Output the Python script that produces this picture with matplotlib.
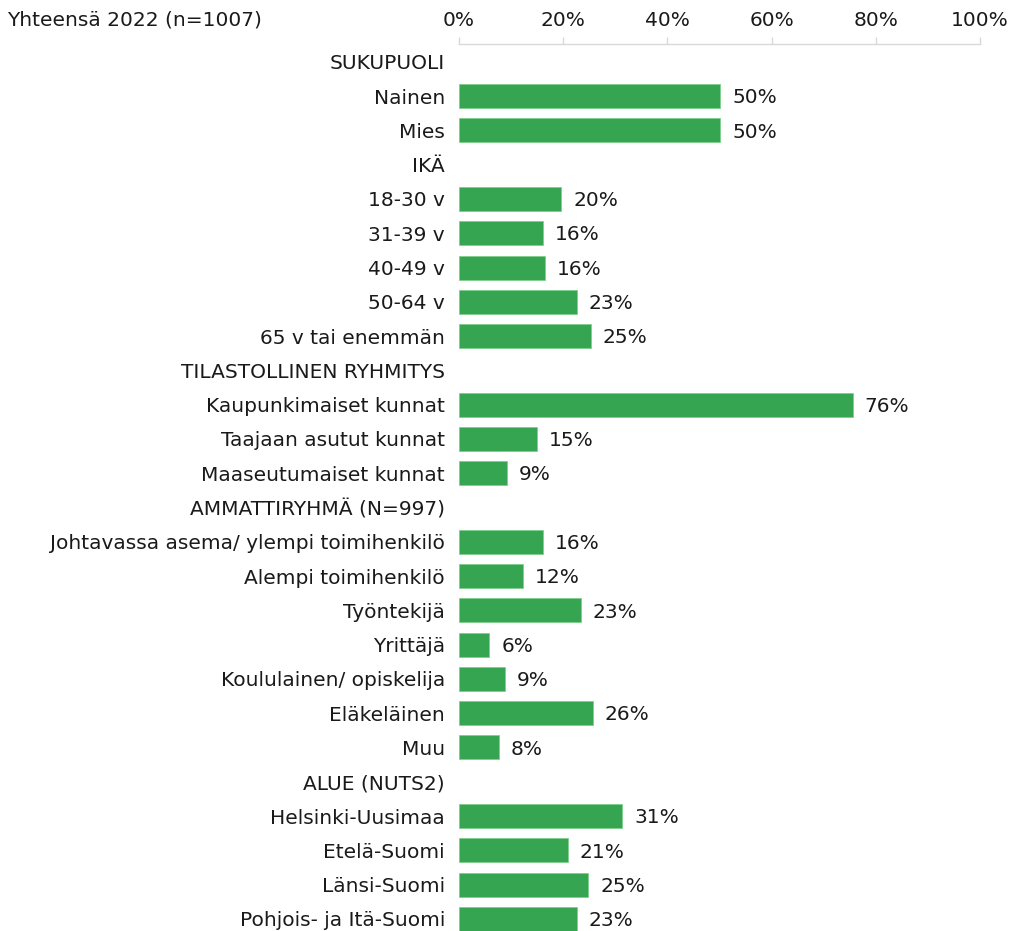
import matplotlib
matplotlib.use("Agg")
import matplotlib.pyplot as plt
from matplotlib.ticker import FuncFormatter

labels = ["SUKUPUOLI", "Nainen", "Mies", "IKÄ", "18-30 v", "31-39 v", "40-49 v",
          "50-64 v", "65 v tai enemmän", "TILASTOLLINEN RYHMITYS",
          "Kaupunkimaiset kunnat", "Taajaan asutut kunnat", "Maaseutumaiset kunnat",
          "AMMATTIRYHMÄ (N=997)", "Johtavassa asema/ ylempi toimihenkilö",
          "Alempi toimihenkilö", "Työntekijä", "Yrittäjä", "Koululainen/ opiskelija",
          "Eläkeläinen", "Muu", "ALUE (NUTS2)", "Helsinki-Uusimaa", "Etelä-Suomi",
          "Länsi-Suomi", "Pohjois- ja Itä-Suomi"]
values = [None, 50.1, 50.1, None, 19.6, 16.1, 16.5, 22.6, 25.3, None,
          75.6, 15.0, 9.2, None, 16.1, 12.3, 23.4, 5.8, 8.8, 25.7, 7.7, None,
          31.3, 20.9, 24.8, 22.6]
value_labels = [None, "50%", "50%", None, "20%", "16%", "16%", "23%", "25%", None,
                "76%", "15%", "9%", None, "16%", "12%", "23%", "6%", "9%", "26%", "8%", None,
                "31%", "21%", "25%", "23%"]
title = "Yhteensä 2022 (n=1007)"
xticks = [0, 20, 40, 60, 80, 100]

W, H = 1015, 931
fig = plt.figure(figsize=(W / 100, H / 100), dpi=100)
plt.rcParams['font.family'] = ['DejaVu Sans']
green = '#35a551'
txt = '#1a1a1a'
fs = 14.5

ax_left, ax_right = 459 / W, 980 / W
ax_top, ax_bot = 1 - 44 / H, 1 - 936 / H
ax = fig.add_axes([ax_left, ax_bot, ax_right - ax_left, ax_top - ax_bot])

n = len(labels)
ys = list(range(n))
for y, v, vl in zip(ys, values, value_labels):
    if v is None:
        continue
    ax.barh(y, v, height=0.7, color=green, edgecolor='#7fcf8f', linewidth=0.6)
    ax.text(v + 2.3, y + 0.05, vl, va='center', ha='left', fontsize=fs, color=txt)

ax.set_ylim(n - 0.5, -0.52)
ax.set_xlim(0, 100)
ax.set_yticks(ys)
ax.set_yticklabels(labels, fontsize=fs, color=txt)
ax.tick_params(axis='y', length=0, pad=10)
ax.xaxis.tick_top()
ax.set_xticks(xticks)
ax.xaxis.set_major_formatter(FuncFormatter(lambda x, p: f"{int(x)}%"))
ax.tick_params(axis='x', length=5, width=1, color='#d9d9d9', labelsize=fs,
               labelcolor=txt, pad=5)
for s in ['right', 'bottom', 'left']:
    ax.spines[s].set_visible(False)
ax.spines['top'].set_color('#d9d9d9')
ax.spines['top'].set_linewidth(1)

fig.text(262 / W, 1 - 20 / H, title, ha='right', va='center', fontsize=fs, color=txt)

fig.savefig("out.png", dpi=100)
